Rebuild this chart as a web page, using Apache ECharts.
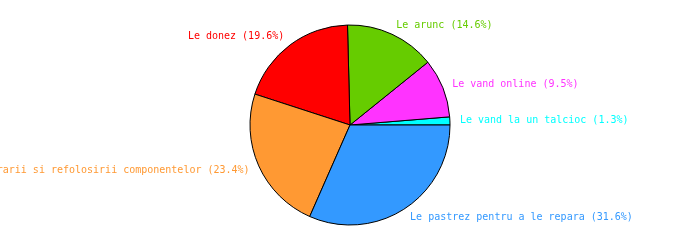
<!DOCTYPE html>
<html>
<head>
<meta charset="utf-8">
<script src="https://cdn.jsdelivr.net/npm/echarts@6/dist/echarts.min.js"></script>
<style>
html,body{margin:0;padding:0;background:#fff;}
#chart{width:700px;height:250px;}
</style>
</head>
<body>
<div id="chart"></div>
<script>
// Categories in drawing order (counter-clockwise from 3 o'clock)
const categories = [
  'Le vand la un talcioc',
  'Le vand online',
  'Le arunc',
  'Le donez',
  'Le predau in vederea recuperarii si refolosirii componentelor',
  'Le pastrez pentru a le repara'
];
const values = [1.3, 9.5, 14.6, 19.6, 23.4, 31.6];
const colors = ['#00FFFF', '#FF33FF', '#66CC00', '#FF0000', '#FF9933', '#3399FF'];

const chart = echarts.init(document.getElementById('chart'), null, {renderer: 'canvas'});
chart.setOption({
  animation: false,
  backgroundColor: '#ffffff',
  series: [{
    type: 'pie',
    center: [350, 125],
    radius: [0, 100],
    startAngle: 0,
    clockwise: false,
    avoidLabelOverlap: false,
    minAngle: 0,
    itemStyle: { borderColor: '#000000', borderWidth: 1 },
    label: {
      show: true,
      position: 'outside',
      color: 'inherit',
      fontFamily: 'DejaVu Sans Mono',
      fontSize: 10,
      width: 600,
      overflow: 'none',
      padding: [3, 0, 0, 0],
      distanceToLabelLine: 0,
      formatter: p => p.name + ' (' + p.value.toFixed(1) + '%)'
    },
    labelLine: { show: false, length: 10, length2: 0 },
    emphasis: { disabled: true },
    data: categories.map((n, i) => ({
      name: n, value: values[i], itemStyle: { color: colors[i] }
    }))
  }]
});
</script>
</body>
</html>
